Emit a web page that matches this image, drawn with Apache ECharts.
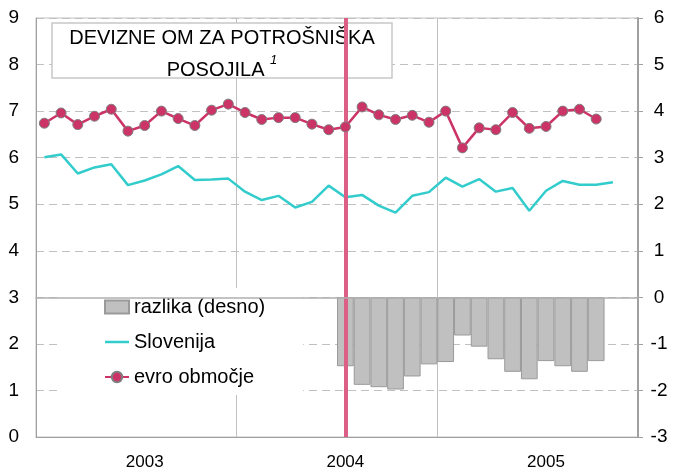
<!DOCTYPE html>
<html>
<head>
<meta charset="utf-8">
<script src="https://cdn.jsdelivr.net/npm/echarts@6/dist/echarts.min.js"></script>
<style>html,body{margin:0;padding:0;background:#fff;}#c{width:675px;height:473px;}</style>
</head>
<body>
<div id="c"></div>
<script>
var categories = [
  '2003-01','2003-02','2003-03','2003-04','2003-05','2003-06','2003-07','2003-08','2003-09','2003-10','2003-11','2003-12',
  '2004-01','2004-02','2004-03','2004-04','2004-05','2004-06','2004-07','2004-08','2004-09','2004-10','2004-11','2004-12',
  '2005-01','2005-02','2005-03','2005-04','2005-05','2005-06','2005-07','2005-08','2005-09','2005-10','2005-11','2005-12'
];
var yearLabels = ['2003', '2004', '2005'];
var leftTicks = [0, 9, 1];   // min, max, interval
var rightTicks = [-3, 6, 1];

var slovenija = [
  6.01, 6.07, 5.66, 5.79, 5.86, 5.41, 5.51, 5.64, 5.82, 5.52, 5.53, 5.55,
  5.27, 5.09, 5.18, 4.93, 5.05, 5.40, 5.15, 5.20, 4.97, 4.82, 5.18, 5.26,
  5.57, 5.38, 5.54, 5.27, 5.35, 4.86, 5.29, 5.50, 5.42, 5.42, 5.47, null
];
var evro = [
  6.74, 6.96, 6.71, 6.89, 7.04, 6.57, 6.69, 7.00, 6.84, 6.69, 7.02, 7.15,
  6.97, 6.82, 6.86, 6.86, 6.72, 6.60, 6.66, 7.09, 6.92, 6.82, 6.91, 6.76,
  7.00, 6.21, 6.64, 6.60, 6.97, 6.63, 6.67, 7.00, 7.04, 6.83, null, null
];
var razlika = [
  null, null, null, null, null, null, null, null, null, null, null, null,
  null, null, null, null, null, null, -1.48, -1.88, -1.93, -1.98, -1.70, -1.44,
  -1.39, -0.82, -1.06, -1.33, -1.60, -1.76, -1.37, -1.48, -1.60, -1.37, null, null
];
var markerCategory = '2004-07';
var titleLines = ['DEVIZNE OM ZA POTROŠNIŠKA', 'POSOJILA ', '1'];

var FONT = 'Liberation Sans, Arial, sans-serif';
var chart = echarts.init(document.getElementById('c'));
chart.setOption({
  animation: false,
  backgroundColor: '#ffffff',
  textStyle: { fontFamily: FONT },
  graphic: [{
    type: 'rect', z: 3,
    shape: { x: 52, y: 23, width: 340, height: 55 },
    style: { fill: '#ffffff', stroke: '#c8c8c8', lineWidth: 1.5 }
  }, {
    type: 'text', z: 4,
    x: 222, y: 22,
    style: {
      text: '{a|' + titleLines[0] + '}\n{a|' + titleLines[1] + '}{s|' + titleLines[2] + '}',
      align: 'center',
      verticalAlign: 'top',
      fill: '#000',
      rich: {
        a: { fontSize: 20, lineHeight: 32, fill: '#000', fontWeight: 'normal', fontFamily: FONT },
        s: { fontSize: 13, lineHeight: 14, fontStyle: 'italic', fill: '#000', verticalAlign: 'top', fontFamily: FONT }
      }
    }
  }],
  legend: {
    orient: 'vertical',
    left: 60, top: 288,
    padding: [8, 38, 7, 44],
    backgroundColor: '#ffffff',
    itemWidth: 24, itemHeight: 13, itemGap: 13,
    textStyle: { fontSize: 20, lineHeight: 22, color: '#000', fontFamily: FONT },
    data: [
      { name: 'razlika (desno)', icon: 'rect' },
      { name: 'Slovenija', icon: 'path://M0,0 L24,0 L24,2.5 L0,2.5 Z' },
      { name: 'evro območje' }
    ]
  },
  grid: {
    left: 36, top: 18, right: 37, bottom: 36,
    show: true, borderColor: '#c0c0c0', borderWidth: 1
  },
  xAxis: [{
    type: 'category',
    data: categories,
    boundaryGap: true,
    axisLine: { show: true, onZero: false, lineStyle: { color: '#a0a0a0', width: 1 } },
    axisTick: { show: false },
    axisLabel: {
      interval: function (i) { return i % 12 === 6; },
      formatter: function (v, i) { return yearLabels[Math.floor(i / 12)]; },
      fontSize: 17, color: '#000', margin: 17, fontFamily: FONT
    },
    splitLine: {
      show: true,
      interval: function (i) { return i === 12 || i === 24; },
      lineStyle: { color: '#c0c0c0', width: 1, type: 'solid' }
    }
  }, {
    type: 'category',
    data: categories,
    position: 'bottom',
    z: 10,
    axisLine: { show: true, onZero: true, onZeroAxisIndex: 1, lineStyle: { color: '#b0b0b0', width: 1.5 } },
    axisTick: { show: false },
    axisLabel: { show: false },
    splitLine: { show: false }
  }],
  yAxis: [{
    type: 'value',
    min: leftTicks[0], max: leftTicks[1], interval: leftTicks[2],
    axisLine: { show: true, lineStyle: { color: '#a0a0a0', width: 1 } },
    axisTick: { show: false },
    axisLabel: { fontSize: 19, color: '#000', margin: 17, fontFamily: FONT },
    splitLine: { show: true, lineStyle: { color: '#c0c0c0', width: 1, type: [8, 5] } }
  }, {
    type: 'value',
    position: 'right',
    min: rightTicks[0], max: rightTicks[1], interval: rightTicks[2],
    axisLine: { show: true, lineStyle: { color: '#a0a0a0', width: 2 } },
    axisTick: { show: true, length: 5, lineStyle: { color: '#a0a0a0', width: 1 } },
    axisLabel: { fontSize: 19, color: '#000', margin: 21, align: 'center', fontFamily: FONT },
    splitLine: { show: false }
  }],
  series: [{
    name: 'razlika (desno)',
    type: 'bar',
    xAxisIndex: 0, yAxisIndex: 1,
    data: razlika,
    barCategoryGap: '0%',
    itemStyle: { color: '#c0c0c0', borderColor: '#9a9a9a', borderWidth: 1 }
  }, {
    name: 'Slovenija',
    type: 'line',
    xAxisIndex: 0, yAxisIndex: 0,
    data: slovenija,
    symbol: 'none',
    lineStyle: { color: '#33cccc', width: 2.5 },
    itemStyle: { color: '#33cccc' },
    markLine: {
      silent: true,
      symbol: 'none',
      label: { show: false },
      lineStyle: { color: '#dc5f88', width: 4, type: 'solid' },
      data: [{ xAxis: markerCategory }]
    }
  }, {
    name: 'evro območje',
    type: 'line',
    xAxisIndex: 0, yAxisIndex: 0,
    z: 7,
    data: evro,
    symbol: 'circle', symbolSize: 10, showAllSymbol: true,
    lineStyle: { color: '#cc3366', width: 2.5 },
    itemStyle: { color: '#cc3366', borderColor: '#7f7f7f', borderWidth: 1 }
  }]
});
</script>
</body>
</html>
